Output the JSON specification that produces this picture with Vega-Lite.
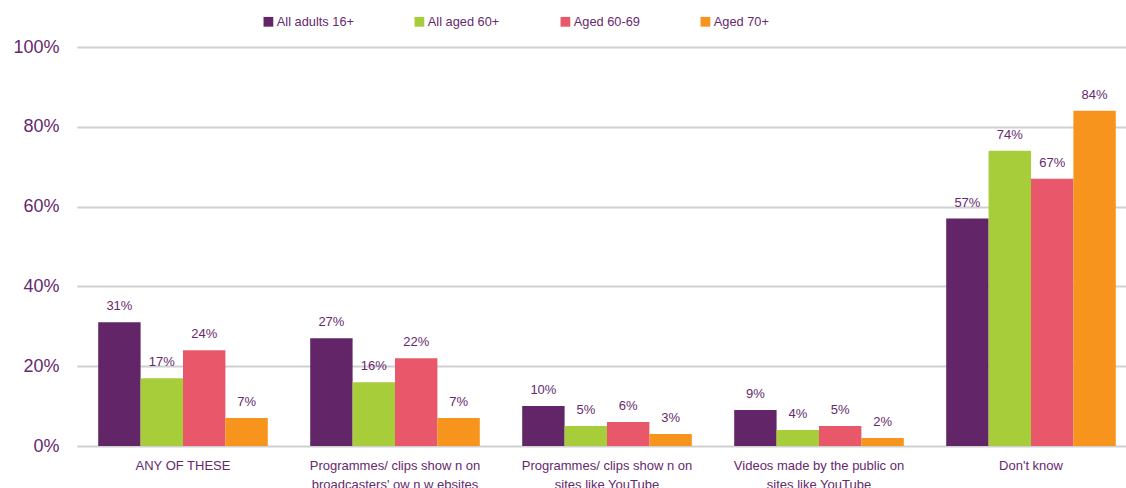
{
  "$schema": "https://vega.github.io/schema/vega-lite/v6.json",
  "width": 1060,
  "height": 399,
  "autosize": {"type": "none"},
  "padding": {"left": 77, "top": 47, "right": 0, "bottom": 42},
  "background": "white",
  "config": {
    "font": "Liberation Sans",
    "view": {"stroke": null}
  },
  "data": {
    "values": [
      {"category": "ANY OF THESE", "group": "All adults 16+", "value": 0.31},
      {"category": "ANY OF THESE", "group": "All aged 60+", "value": 0.17},
      {"category": "ANY OF THESE", "group": "Aged 60-69", "value": 0.24},
      {"category": "ANY OF THESE", "group": "Aged 70+", "value": 0.07},
      {"category": "Programmes/ clips show n on|broadcasters' ow n w ebsites", "group": "All adults 16+", "value": 0.27},
      {"category": "Programmes/ clips show n on|broadcasters' ow n w ebsites", "group": "All aged 60+", "value": 0.16},
      {"category": "Programmes/ clips show n on|broadcasters' ow n w ebsites", "group": "Aged 60-69", "value": 0.22},
      {"category": "Programmes/ clips show n on|broadcasters' ow n w ebsites", "group": "Aged 70+", "value": 0.07},
      {"category": "Programmes/ clips show n on|sites like YouTube", "group": "All adults 16+", "value": 0.10},
      {"category": "Programmes/ clips show n on|sites like YouTube", "group": "All aged 60+", "value": 0.05},
      {"category": "Programmes/ clips show n on|sites like YouTube", "group": "Aged 60-69", "value": 0.06},
      {"category": "Programmes/ clips show n on|sites like YouTube", "group": "Aged 70+", "value": 0.03},
      {"category": "Videos made by the public on|sites like YouTube", "group": "All adults 16+", "value": 0.09},
      {"category": "Videos made by the public on|sites like YouTube", "group": "All aged 60+", "value": 0.04},
      {"category": "Videos made by the public on|sites like YouTube", "group": "Aged 60-69", "value": 0.05},
      {"category": "Videos made by the public on|sites like YouTube", "group": "Aged 70+", "value": 0.02},
      {"category": "Don't know", "group": "All adults 16+", "value": 0.57},
      {"category": "Don't know", "group": "All aged 60+", "value": 0.74},
      {"category": "Don't know", "group": "Aged 60-69", "value": 0.67},
      {"category": "Don't know", "group": "Aged 70+", "value": 0.84}
    ]
  },
  "encoding": {
    "x": {
      "field": "category",
      "type": "nominal",
      "sort": null,
      "scale": {"paddingInner": 0.2, "paddingOuter": 0.1},
      "axis": {
        "title": null,
        "labelAngle": 0,
        "domain": false,
        "ticks": false,
        "labelPadding": 13,
        "labelFontSize": 13,
        "labelColor": "#66296e",
        "labelLineHeight": 19,
        "labelBaseline": "top",
        "labelExpr": "split(datum.label, '|')"
      }
    },
    "xOffset": {
      "field": "group",
      "type": "nominal",
      "sort": ["All adults 16+", "All aged 60+", "Aged 60-69", "Aged 70+"]
    },
    "y": {
      "field": "value",
      "type": "quantitative",
      "scale": {"domain": [0, 1]},
      "axis": {
        "title": null,
        "values": [0, 0.2, 0.4, 0.6, 0.8, 1],
        "format": ".0%",
        "domain": false,
        "ticks": false,
        "labelPadding": 18,
        "labelFontSize": 18,
        "labelColor": "#66296e",
        "gridColor": "#d0d0d0",
        "gridWidth": 2
      }
    }
  },
  "layer": [
    {
      "mark": {"type": "bar"},
      "encoding": {
        "color": {
          "field": "group",
          "type": "nominal",
          "sort": ["All adults 16+", "All aged 60+", "Aged 60-69", "Aged 70+"],
          "scale": {
            "domain": ["All adults 16+", "All aged 60+", "Aged 60-69", "Aged 70+"],
            "range": ["#622567", "#a8cd3a", "#e8586a", "#f7941d"]
          },
          "legend": {
            "title": null,
            "orient": "none",
            "direction": "horizontal",
            "legendX": 185,
            "legendY": -32,
            "symbolType": "square",
            "symbolSize": 95,
            "symbolStrokeWidth": 0,
            "symbolOpacity": 1,
            "labelFontSize": 12.8,
            "labelColor": "#66296e",
            "labelOffset": 2,
            "columnPadding": 59,
            "padding": 0
          }
        }
      }
    },
    {
      "mark": {"type": "text", "baseline": "middle", "dy": -16, "fontSize": 13, "color": "#66296e"},
      "encoding": {
        "text": {"field": "value", "type": "quantitative", "format": ".0%"},
        "detail": {"field": "group"}
      }
    }
  ]
}
